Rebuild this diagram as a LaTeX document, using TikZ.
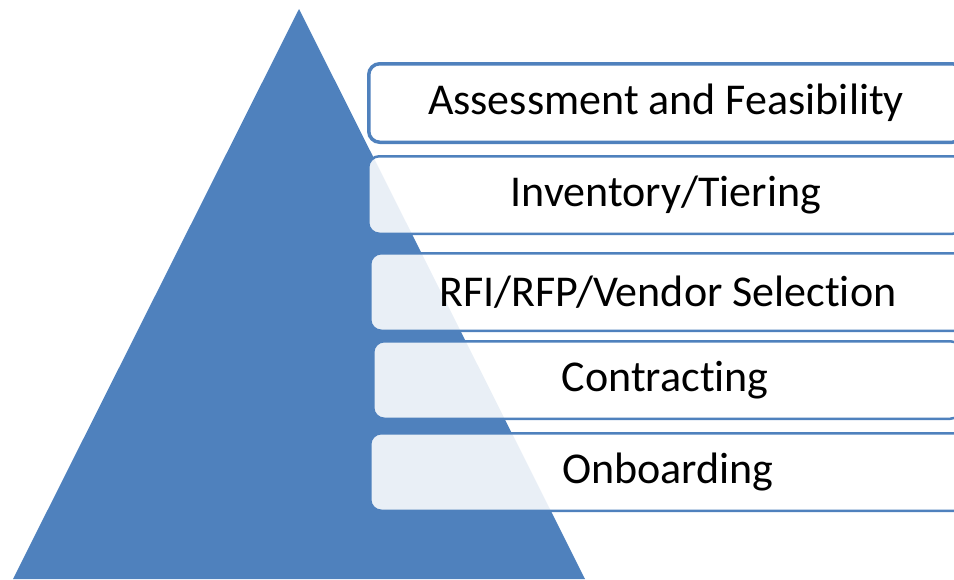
\documentclass[tikz,border=0pt]{standalone}
\usepackage{fontspec}
\setmainfont[Ligatures=NoCommon]{Carlito}
\definecolor{pblue}{HTML}{4F81BD}
\begin{document}
\begin{tikzpicture}[x=1pt,y=-1pt,
  stage/.style={draw=pblue, rounded corners=11pt, fill=white, fill opacity=0.88, text opacity=1,
    line width=2.5pt, outer sep=0pt, minimum width=595.5pt, minimum height=77.5pt, inner sep=0pt,
    anchor=north west, font=\fontsize{44}{50}\selectfont, text=black},
  topstage/.style={stage, line width=3.5pt, fill opacity=1, minimum width=594.5pt, minimum height=78.5pt}]
\useasboundingbox (0,0) rectangle (954,579);
\begin{scope}
\clip (0,0) rectangle (954,579);
\fill[pblue] (299,9) -- (585,579) -- (13,579) -- cycle;
\node[topstage] (s1) at (368.75,63.75) {Assessment and Feasibility};
\node[stage] (s2) at (368.25,156.25) {Inventory/Tiering};
\node[stage] (s3) at (370.25,253.25) {RFI/RFP/Vendor Selection};
\node[stage, minimum width=588pt] (s4) at (373.25,341.25) {\hspace*{-4pt}Contracting};
\node[stage] (s5) at (370.25,433.25) {Onboarding};
\end{scope}
\end{tikzpicture}
\end{document}
